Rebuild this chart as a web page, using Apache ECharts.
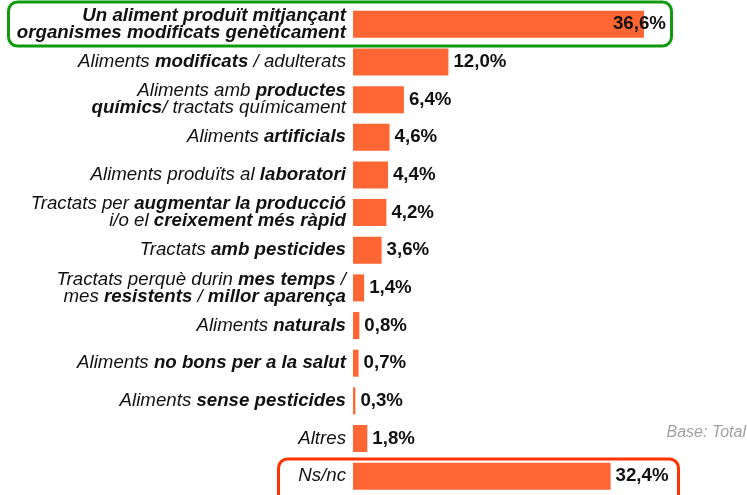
<!DOCTYPE html>
<html>
<head>
<meta charset="utf-8">
<script src="https://cdn.jsdelivr.net/npm/echarts@6/dist/echarts.min.js"></script>
<style>
html,body{margin:0;padding:0;background:#fff;}
#c{width:747px;height:495px;}
</style>
</head>
<body>
<div id="c"></div>
<script>
const categories = [
  "{b|Un aliment produït mitjançant}\n{b|organismes modificats genèticament}",
  "{n|Aliments }{b|modificats}{n| / adulterats}",
  "{n|Aliments amb }{b|productes}\n{b|químics}{n|/ tractats químicament}",
  "{n|Aliments }{b|artificials}",
  "{n|Aliments produïts al }{b|laboratori}",
  "{n|Tractats per }{b|augmentar la producció}\n{n|i/o el }{b|creixement més ràpid}",
  "{n|Tractats }{b|amb pesticides}",
  "{n|Tractats perquè durin }{b|mes temps}{n| /}\n{n|mes }{b|resistents}{n| / }{b|millor aparença}",
  "{n|Aliments }{b|naturals}",
  "{n|Aliments }{b|no bons per a la salut}",
  "{n|Aliments }{b|sense pesticides}",
  "{n|Altres}",
  "{n|Ns/nc}"
];
const values = [36.6, 12.0, 6.4, 4.6, 4.4, 4.2, 3.6, 1.4, 0.8, 0.7, 0.3, 1.8, 32.4];
const baseNote = "Base: Total";

const FONT = '"Liberation Sans", Arial, Helvetica, sans-serif';
const FS = 18.7;
const chart = echarts.init(document.getElementById('c'), null, {renderer: 'canvas'});

const seriesData = values.map((v, i) => {
  const d = {value: v};
  if (i === 0) {
    d.label = {offset: [-36, 0]};
  }
  return d;
});

chart.setOption({
  animation: false,
  grid: {left: 353, top: 5.5, width: 318, height: 493.4, containLabel: false},
  xAxis: {type: 'value', min: 0, max: 40, show: false},
  yAxis: {
    type: 'category',
    data: categories,
    inverse: true,
    axisLine: {show: false},
    axisTick: {show: false},
    splitLine: {show: false},
    axisLabel: {
      margin: 7,
      align: 'right',
      lineHeight: 17,
      rich: {
        n: {fontFamily: FONT, fontStyle: 'italic', fontWeight: 'normal', fontSize: FS, color: '#111', lineHeight: 17},
        b: {fontFamily: FONT, fontStyle: 'italic', fontWeight: 'bold', fontSize: FS, color: '#111', lineHeight: 17}
      }
    }
  },
  series: [{
    type: 'bar',
    data: seriesData,
    barWidth: 27,
    itemStyle: {color: '#ff6633'},
    label: {
      show: true,
      position: 'right',
      distance: 5,
      fontFamily: FONT,
      fontWeight: 'bold',
      fontSize: FS,
      color: '#111',
      formatter: p => p.value.toFixed(1).replace('.', ',') + '%'
    }
  }],
  graphic: [
    {type: 'rect', shape: {x: 8.5, y: 2, width: 663, height: 44, r: 9}, style: {fill: 'none', stroke: '#119911', lineWidth: 3}, z: 10},
    {type: 'rect', shape: {x: 278.5, y: 459, width: 400, height: 60, r: 9}, style: {fill: 'none', stroke: '#ff3300', lineWidth: 3}, z: 10},
    {type: 'text', right: 1, top: 425, style: {text: baseNote, fontFamily: FONT, fontStyle: 'italic', fontSize: 16, fill: '#a0a0a0'}}
  ]
});
</script>
</body>
</html>
